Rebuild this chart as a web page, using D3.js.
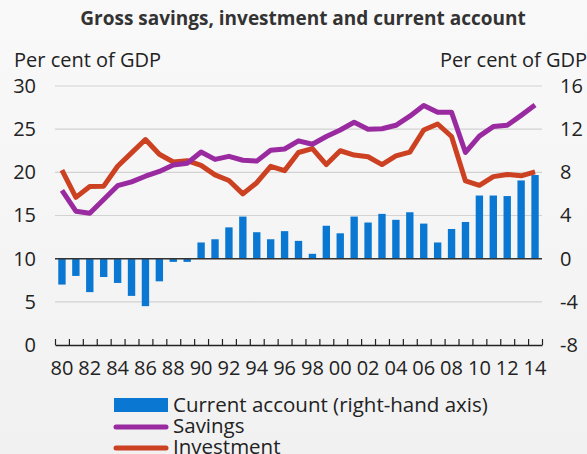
<!DOCTYPE html>
<html>
<head>
<meta charset="utf-8">
<script src="https://cdn.jsdelivr.net/npm/d3@7"></script>
<style>
  html, body { margin: 0; padding: 0; }
  body { width: 587px; height: 454px; overflow: hidden; background: #f6f6f6; }
  text { font-family: "Open Sans", "Noto Sans", sans-serif; }
</style>
</head>
<body>
<div id="chart"></div>
<script>
const years = [1980, 1981, 1982, 1983, 1984, 1985, 1986, 1987, 1988, 1989,
    1990, 1991, 1992, 1993, 1994, 1995, 1996, 1997, 1998, 1999,
    2000, 2001, 2002, 2003, 2004, 2005, 2006, 2007, 2008, 2009,
    2010, 2011, 2012, 2013, 2014]

const savings = [17.9, 15.5, 15.25, 16.85, 18.45, 18.9, 19.55, 20.1, 20.85, 21.05,
    22.35, 21.5, 21.85, 21.4, 21.3, 22.55, 22.7, 23.65, 23.25, 24.15,
    24.9, 25.8, 25.0, 25.05, 25.45, 26.5, 27.75, 26.95, 26.95, 22.3,
    24.2, 25.3, 25.45, 26.6, 27.8]

const investment = [20.25, 17.1, 18.35, 18.4, 20.7, 22.25, 23.8, 22.1, 21.2, 21.35,
    20.8, 19.7, 19.05, 17.5, 18.8, 20.7, 20.2, 22.3, 22.75, 20.9,
    22.5, 22.0, 21.8, 20.9, 21.9, 22.35, 24.9, 25.6, 24.15, 19.0,
    18.5, 19.5, 19.75, 19.6, 20.05]

const currentAccount = [-2.4, -1.6, -3.1, -1.7, -2.25, -3.45, -4.4, -2.1, -0.3, -0.3,
    1.5, 1.8, 2.9, 3.9, 2.45, 1.8, 2.55, 1.65, 0.45, 3.05,
    2.35, 3.9, 3.35, 4.15, 3.6, 4.3, 3.25, 1.5, 2.75, 3.4,
    5.85, 5.85, 5.8, 7.25, 7.75]

const leftTicks = [0, 5, 10, 15, 20, 25, 30]
const rightTicks = [-8, -4, 0, 4, 8, 12, 16]

const width = 587
const height = 454
const marginLeft = 55
const marginRight = 45
const marginTop = 86
const bottomY = 345

const colBars = "#0a78d2"
const colSavings = "#9a2aa0"
const colInvest = "#cc4122"
const tickFont = 20

const svg = d3.create("svg")
    .attr("width", width)
    .attr("height", height)
    .attr("viewBox", [0, 0, width, height])

const grad = svg.append("defs").append("linearGradient")
    .attr("id", "bg").attr("x1", 0).attr("y1", 0).attr("x2", 0).attr("y2", 1)
grad.append("stop").attr("offset", "0%").attr("stop-color", "#f9f9f9")
grad.append("stop").attr("offset", "100%").attr("stop-color", "#f1f1f1")
svg.append("rect").attr("width", width).attr("height", height).attr("fill", "url(#bg)")

const x = d3.scaleBand()
    .domain(years)
    .range([marginLeft, width - marginRight])
    .paddingInner(0.47)
    .paddingOuter(0.235)

// plain linear scale for the tick marks between the bars
const xEdge = d3.scaleLinear()
    .domain([0, years.length])
    .range([marginLeft, width - marginRight])

const yL = d3.scaleLinear().domain([0, 30]).range([bottomY, marginTop])
const yR = d3.scaleLinear().domain([-8, 16]).range([bottomY, marginTop])

// title
svg.append("text")
    .attr("x", 303)
    .attr("y", 25)
    .attr("text-anchor", "middle")
    .attr("font-size", 19)
    .attr("font-weight", "bold")
    .attr("fill", "#333")
    .text("Gross savings, investment and current account")

svg.append("text")
    .attr("x", 14).attr("y", 67)
    .attr("font-size", 20).attr("fill", "#222")
    .text("Per cent of GDP")

svg.append("text")
    .attr("x", 587).attr("y", 67)
    .attr("text-anchor", "end")
    .attr("font-size", 20).attr("fill", "#222")
    .text("Per cent of GDP")

// gridlines
svg.append("g")
    .selectAll("line")
    .data(leftTicks.filter(d => d > 0))
    .join("line")
    .attr("x1", marginLeft).attr("x2", width - marginRight)
    .attr("y1", d => yL(d)).attr("y2", d => yL(d))
    .attr("stroke", "#d2d2d2")
    .attr("stroke-width", 1.2)

// left axis labels
svg.append("g")
    .attr("transform", `translate(${marginLeft},0)`)
    .call(d3.axisLeft(yL).tickValues(leftTicks).tickSize(0).tickPadding(19))
    .call(g => g.select(".domain").remove())
    .call(g => g.selectAll("text").attr("font-size", tickFont).attr("fill", "#222")
        .attr("font-family", "Open Sans"))

// right axis labels, plain hyphen for negatives as in the source
svg.append("g")
    .attr("transform", `translate(${width - marginRight},0)`)
    .call(d3.axisRight(yR).tickValues(rightTicks).tickSize(0).tickPadding(18)
        .tickFormat(d => String(d)))
    .call(g => g.select(".domain").remove())
    .call(g => g.selectAll("text").attr("font-size", tickFont).attr("fill", "#222")
        .attr("font-family", "Open Sans"))

// bars
svg.append("g")
    .attr("fill", colBars)
    .selectAll("rect")
    .data(currentAccount)
    .join("rect")
    .attr("x", (d, i) => x(years[i]))
    .attr("width", x.bandwidth())
    .attr("y", d => yR(Math.max(0, d)))
    .attr("height", d => Math.abs(yR(d) - yR(0)))

// zero line of the right axis
svg.append("line")
    .attr("x1", marginLeft).attr("x2", width - marginRight)
    .attr("y1", yR(0)).attr("y2", yR(0))
    .attr("stroke", "#333")
    .attr("stroke-width", 1.5)

// lines
const line = d3.line()
    .x((d, i) => x(years[i]) + x.bandwidth() / 2)
    .y(d => yL(d))

svg.append("path")
    .datum(investment)
    .attr("fill", "none")
    .attr("stroke", colInvest)
    .attr("stroke-width", 5)
    .attr("stroke-linejoin", "round")
    .attr("d", line)

svg.append("path")
    .datum(savings)
    .attr("fill", "none")
    .attr("stroke", colSavings)
    .attr("stroke-width", 5)
    .attr("stroke-linejoin", "round")
    .attr("d", line)

// x axis with small ticks between years
svg.append("g")
    .attr("transform", `translate(0,${bottomY})`)
    .call(d3.axisBottom(xEdge).tickValues(d3.range(years.length + 1)).tickSize(-6).tickSizeOuter(0).tickFormat(""))
    .call(g => g.select(".domain").attr("stroke", "#222").attr("stroke-width", 1.5))
    .call(g => g.selectAll(".tick line").attr("stroke", "#222").attr("stroke-width", 1.2))

svg.append("g")
    .attr("transform", `translate(0,${bottomY})`)
    .call(d3.axisBottom(x).tickValues(years.filter((d, i) => i % 2 === 0)).tickSize(0).tickPadding(16)
        .tickFormat(d => String(d).slice(2)))
    .call(g => g.select(".domain").remove())
    .call(g => g.selectAll("text").attr("font-size", tickFont).attr("fill", "#222")
        .attr("font-family", "Open Sans"))

// legend
const legend = svg.append("g").attr("transform", "translate(114,0)")
legend.append("rect")
    .attr("x", 0).attr("y", 398).attr("width", 54).attr("height", 14)
    .attr("fill", colBars)
legend.append("line")
    .attr("x1", 2).attr("x2", 52).attr("y1", 427).attr("y2", 427)
    .attr("stroke", colSavings).attr("stroke-width", 5).attr("stroke-linecap", "round")
legend.append("line")
    .attr("x1", 2).attr("x2", 52).attr("y1", 448).attr("y2", 448)
    .attr("stroke", colInvest).attr("stroke-width", 5).attr("stroke-linecap", "round")

const legendLabels = ["Current account (right-hand axis)", "Savings", "Investment"]
legend.selectAll("text.lab")
    .data(legendLabels)
    .join("text")
    .attr("class", "lab")
    .attr("x", 59)
    .attr("y", (d, i) => 412 + i * 21)
    .attr("font-size", 20.5)
    .attr("fill", "#222")
    .text(d => d)

document.getElementById("chart").append(svg.node())
</script>
</body>
</html>
